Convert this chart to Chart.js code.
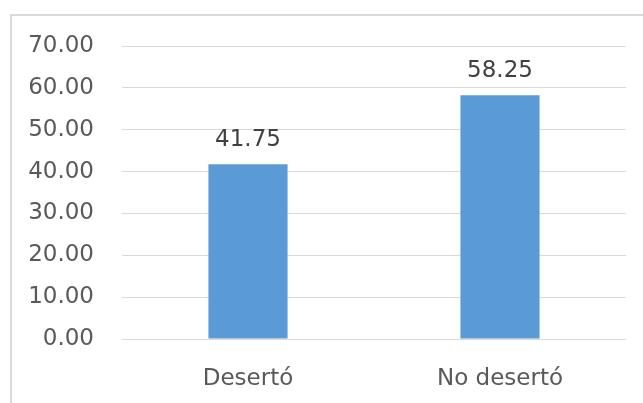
<!DOCTYPE html>
<html><head><meta charset="utf-8">
<script src="https://cdn.jsdelivr.net/npm/chart.js@4.4.0/dist/chart.umd.min.js"></script>
<style>
html,body{margin:0;padding:0;background:#fff;}
#wrap{position:relative;width:643px;height:403px;}
#frame{position:absolute;left:10px;top:14px;width:700px;height:500px;border-left:2px solid #D9D9D9;border-top:2px solid #D9D9D9;box-sizing:border-box;}
canvas{position:absolute;left:0;top:0;}
</style></head>
<body>
<div id="wrap"><div id="frame"></div><canvas id="c" width="643" height="403"></canvas></div>
<script>
const categories = ["Desertó", "No desertó"];
const values = [41.75, 58.25];
const yTicks = [0, 10, 20, 30, 40, 50, 60, 70];

const FONT = "'DejaVu Sans', sans-serif";
const FSIZE = 23;
const labelPlugin = {
  id: 'valueLabels',
  afterDatasetsDraw(chart) {
    const ctx = chart.ctx;
    const meta = chart.getDatasetMeta(0);
    ctx.save();
    ctx.font = FSIZE + "px " + FONT;
    ctx.fillStyle = "#404040";
    ctx.textAlign = "center";
    ctx.textBaseline = "alphabetic";
    meta.data.forEach((bar, i) => {
      ctx.fillText(values[i].toFixed(2), bar.x, bar.y - 18);
    });
    ctx.restore();
  }
};

new Chart(document.getElementById('c'), {
  type: 'bar',
  data: {
    labels: categories,
    datasets: [{
      data: values,
      backgroundColor: '#5B9BD5',
      borderWidth: 0,
      categoryPercentage: 1,
      barPercentage: 0.314
    }]
  },
  options: {
    responsive: false,
    animation: false,
    devicePixelRatio: 1,
    layout: { padding: { top: 46, right: 17, left: 0, bottom: 0 } },
    plugins: { legend: { display: false }, tooltip: { enabled: false } },
    scales: {
      x: {
        grid: { display: false },
        border: { display: false },
        ticks: { color: '#595959', font: { family: FONT, size: FSIZE }, padding: 18 },
        afterFit(s) { s.height = 64; }
      },
      y: {
        min: 0, max: 70,
        afterBuildTicks(s) { s.ticks = yTicks.map(v => ({ value: v })); },
        grid: { color: '#D9D9D9', lineWidth: 1, drawTicks: false },
        border: { display: false },
        ticks: {
          color: '#595959', font: { family: FONT, size: FSIZE }, padding: 28,
          callback: v => Number(v).toFixed(2)
        },
        afterFit(s) { s.width = 122; }
      }
    }
  },
  plugins: [labelPlugin]
});
</script>
</body></html>
